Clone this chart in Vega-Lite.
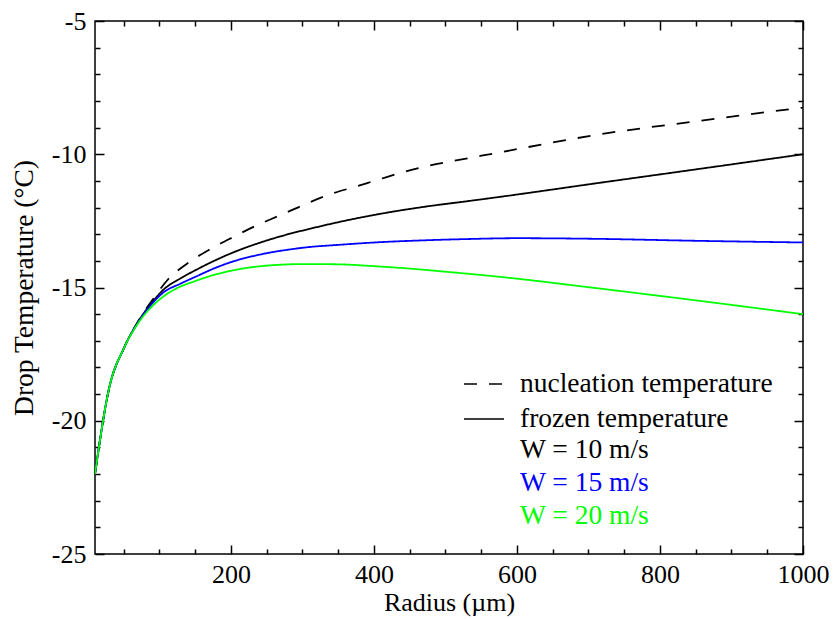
{
  "$schema": "https://vega.github.io/schema/vega-lite/v6.json",
  "width": 708,
  "height": 533,
  "autosize": {"type": "none"},
  "padding": {"left": 95, "top": 21, "right": 35, "bottom": 65},
  "background": "white",
  "config": {
    "font": "Liberation Serif, serif",
    "view": {"stroke": "#000", "strokeWidth": 1.5},
    "axis": {"labelFont": "Liberation Serif, serif", "titleFont": "Liberation Serif, serif", "labelColor": "#000", "titleColor": "#000", "tickColor": "#000", "tickWidth": 1.5, "grid": false, "domain": false, "labelFontSize": 26, "titleFontSize": 26, "titleFontWeight": "normal"},
    "legend": {"labelFont": "Liberation Serif, serif", "labelColor": "#000"}
  },
  "data": {
    "values": [
      {"s": "A", "type": "nucleation temperature", "W": "W = 10 m/s", "r": 10, "t": -22},
      {"s": "A", "type": "nucleation temperature", "W": "W = 10 m/s", "r": 30, "t": -18.75},
      {"s": "A", "type": "nucleation temperature", "W": "W = 10 m/s", "r": 50, "t": -17.3},
      {"s": "A", "type": "nucleation temperature", "W": "W = 10 m/s", "r": 70, "t": -16.28},
      {"s": "A", "type": "nucleation temperature", "W": "W = 10 m/s", "r": 90, "t": -15.48},
      {"s": "A", "type": "nucleation temperature", "W": "W = 10 m/s", "r": 112, "t": -14.7},
      {"s": "A", "type": "nucleation temperature", "W": "W = 10 m/s", "r": 140, "t": -14.08},
      {"s": "A", "type": "nucleation temperature", "W": "W = 10 m/s", "r": 172, "t": -13.55},
      {"s": "A", "type": "nucleation temperature", "W": "W = 10 m/s", "r": 203, "t": -13.11},
      {"s": "A", "type": "nucleation temperature", "W": "W = 10 m/s", "r": 236, "t": -12.67},
      {"s": "A", "type": "nucleation temperature", "W": "W = 10 m/s", "r": 268, "t": -12.3},
      {"s": "A", "type": "nucleation temperature", "W": "W = 10 m/s", "r": 300, "t": -11.92},
      {"s": "A", "type": "nucleation temperature", "W": "W = 10 m/s", "r": 338, "t": -11.51},
      {"s": "A", "type": "nucleation temperature", "W": "W = 10 m/s", "r": 375, "t": -11.21},
      {"s": "A", "type": "nucleation temperature", "W": "W = 10 m/s", "r": 410, "t": -10.92},
      {"s": "A", "type": "nucleation temperature", "W": "W = 10 m/s", "r": 440, "t": -10.68},
      {"s": "A", "type": "nucleation temperature", "W": "W = 10 m/s", "r": 478, "t": -10.42},
      {"s": "A", "type": "nucleation temperature", "W": "W = 10 m/s", "r": 515, "t": -10.23},
      {"s": "A", "type": "nucleation temperature", "W": "W = 10 m/s", "r": 576, "t": -9.93},
      {"s": "A", "type": "nucleation temperature", "W": "W = 10 m/s", "r": 650, "t": -9.56},
      {"s": "A", "type": "nucleation temperature", "W": "W = 10 m/s", "r": 716, "t": -9.25},
      {"s": "A", "type": "nucleation temperature", "W": "W = 10 m/s", "r": 785, "t": -8.99},
      {"s": "A", "type": "nucleation temperature", "W": "W = 10 m/s", "r": 855, "t": -8.75},
      {"s": "A", "type": "nucleation temperature", "W": "W = 10 m/s", "r": 925, "t": -8.5},
      {"s": "A", "type": "nucleation temperature", "W": "W = 10 m/s", "r": 1000, "t": -8.25},
      {"s": "B", "type": "frozen temperature", "W": "W = 10 m/s", "r": 10, "t": -22},
      {"s": "B", "type": "frozen temperature", "W": "W = 10 m/s", "r": 30, "t": -18.75},
      {"s": "B", "type": "frozen temperature", "W": "W = 10 m/s", "r": 50, "t": -17.3},
      {"s": "B", "type": "frozen temperature", "W": "W = 10 m/s", "r": 70, "t": -16.3},
      {"s": "B", "type": "frozen temperature", "W": "W = 10 m/s", "r": 90, "t": -15.55},
      {"s": "B", "type": "frozen temperature", "W": "W = 10 m/s", "r": 105, "t": -15.1},
      {"s": "B", "type": "frozen temperature", "W": "W = 10 m/s", "r": 130, "t": -14.65},
      {"s": "B", "type": "frozen temperature", "W": "W = 10 m/s", "r": 152, "t": -14.33},
      {"s": "B", "type": "frozen temperature", "W": "W = 10 m/s", "r": 175, "t": -14.02},
      {"s": "B", "type": "frozen temperature", "W": "W = 10 m/s", "r": 200, "t": -13.72},
      {"s": "B", "type": "frozen temperature", "W": "W = 10 m/s", "r": 245, "t": -13.28},
      {"s": "B", "type": "frozen temperature", "W": "W = 10 m/s", "r": 283, "t": -12.98},
      {"s": "B", "type": "frozen temperature", "W": "W = 10 m/s", "r": 310, "t": -12.8},
      {"s": "B", "type": "frozen temperature", "W": "W = 10 m/s", "r": 345, "t": -12.58},
      {"s": "B", "type": "frozen temperature", "W": "W = 10 m/s", "r": 408, "t": -12.24},
      {"s": "B", "type": "frozen temperature", "W": "W = 10 m/s", "r": 471, "t": -11.97},
      {"s": "B", "type": "frozen temperature", "W": "W = 10 m/s", "r": 534, "t": -11.75},
      {"s": "B", "type": "frozen temperature", "W": "W = 10 m/s", "r": 576, "t": -11.6},
      {"s": "B", "type": "frozen temperature", "W": "W = 10 m/s", "r": 716, "t": -11.07},
      {"s": "B", "type": "frozen temperature", "W": "W = 10 m/s", "r": 855, "t": -10.55},
      {"s": "B", "type": "frozen temperature", "W": "W = 10 m/s", "r": 1000, "t": -10.0},
      {"s": "C", "type": "frozen temperature", "W": "W = 15 m/s", "r": 10, "t": -22},
      {"s": "C", "type": "frozen temperature", "W": "W = 15 m/s", "r": 30, "t": -18.75},
      {"s": "C", "type": "frozen temperature", "W": "W = 15 m/s", "r": 50, "t": -17.3},
      {"s": "C", "type": "frozen temperature", "W": "W = 15 m/s", "r": 70, "t": -16.32},
      {"s": "C", "type": "frozen temperature", "W": "W = 15 m/s", "r": 90, "t": -15.6},
      {"s": "C", "type": "frozen temperature", "W": "W = 15 m/s", "r": 105, "t": -15.2},
      {"s": "C", "type": "frozen temperature", "W": "W = 15 m/s", "r": 130, "t": -14.85},
      {"s": "C", "type": "frozen temperature", "W": "W = 15 m/s", "r": 152, "t": -14.58},
      {"s": "C", "type": "frozen temperature", "W": "W = 15 m/s", "r": 175, "t": -14.3},
      {"s": "C", "type": "frozen temperature", "W": "W = 15 m/s", "r": 200, "t": -14.05},
      {"s": "C", "type": "frozen temperature", "W": "W = 15 m/s", "r": 245, "t": -13.74},
      {"s": "C", "type": "frozen temperature", "W": "W = 15 m/s", "r": 283, "t": -13.57},
      {"s": "C", "type": "frozen temperature", "W": "W = 15 m/s", "r": 310, "t": -13.48},
      {"s": "C", "type": "frozen temperature", "W": "W = 15 m/s", "r": 345, "t": -13.41},
      {"s": "C", "type": "frozen temperature", "W": "W = 15 m/s", "r": 408, "t": -13.3},
      {"s": "C", "type": "frozen temperature", "W": "W = 15 m/s", "r": 470, "t": -13.23},
      {"s": "C", "type": "frozen temperature", "W": "W = 15 m/s", "r": 534, "t": -13.18},
      {"s": "C", "type": "frozen temperature", "W": "W = 15 m/s", "r": 600, "t": -13.15},
      {"s": "C", "type": "frozen temperature", "W": "W = 15 m/s", "r": 700, "t": -13.17},
      {"s": "C", "type": "frozen temperature", "W": "W = 15 m/s", "r": 855, "t": -13.25},
      {"s": "C", "type": "frozen temperature", "W": "W = 15 m/s", "r": 1000, "t": -13.31},
      {"s": "D", "type": "frozen temperature", "W": "W = 20 m/s", "r": 10, "t": -22},
      {"s": "D", "type": "frozen temperature", "W": "W = 20 m/s", "r": 30, "t": -18.75},
      {"s": "D", "type": "frozen temperature", "W": "W = 20 m/s", "r": 50, "t": -17.3},
      {"s": "D", "type": "frozen temperature", "W": "W = 20 m/s", "r": 70, "t": -16.35},
      {"s": "D", "type": "frozen temperature", "W": "W = 20 m/s", "r": 90, "t": -15.7},
      {"s": "D", "type": "frozen temperature", "W": "W = 20 m/s", "r": 105, "t": -15.35},
      {"s": "D", "type": "frozen temperature", "W": "W = 20 m/s", "r": 125, "t": -15.02},
      {"s": "D", "type": "frozen temperature", "W": "W = 20 m/s", "r": 150, "t": -14.76},
      {"s": "D", "type": "frozen temperature", "W": "W = 20 m/s", "r": 180, "t": -14.5},
      {"s": "D", "type": "frozen temperature", "W": "W = 20 m/s", "r": 212, "t": -14.31},
      {"s": "D", "type": "frozen temperature", "W": "W = 20 m/s", "r": 260, "t": -14.16},
      {"s": "D", "type": "frozen temperature", "W": "W = 20 m/s", "r": 305, "t": -14.12},
      {"s": "D", "type": "frozen temperature", "W": "W = 20 m/s", "r": 350, "t": -14.13},
      {"s": "D", "type": "frozen temperature", "W": "W = 20 m/s", "r": 400, "t": -14.2},
      {"s": "D", "type": "frozen temperature", "W": "W = 20 m/s", "r": 445, "t": -14.28},
      {"s": "D", "type": "frozen temperature", "W": "W = 20 m/s", "r": 505, "t": -14.42},
      {"s": "D", "type": "frozen temperature", "W": "W = 20 m/s", "r": 576, "t": -14.6},
      {"s": "D", "type": "frozen temperature", "W": "W = 20 m/s", "r": 716, "t": -15.04},
      {"s": "D", "type": "frozen temperature", "W": "W = 20 m/s", "r": 855, "t": -15.5},
      {"s": "D", "type": "frozen temperature", "W": "W = 20 m/s", "r": 1000, "t": -16.0}
    ]
  },
  "layer": [
    {
      "mark": {"type": "line", "strokeWidth": 1.8, "clip": true, "interpolate": "monotone"},
      "encoding": {
        "x": {
          "field": "r", "type": "quantitative",
          "scale": {"domain": [10, 1000], "nice": false, "zero": false},
          "axis": {
            "orient": "bottom",
            "values": [50, 100, 150, 200, 250, 300, 350, 400, 450, 500, 550, 600, 650, 700, 750, 800, 850, 900, 950, 1000],
            "tickSize": {"condition": {"test": "datum.value % 200 === 0", "value": -9}, "value": -5},
            "labelExpr": "datum.value % 200 === 0 ? datum.value + '' : ''",
            "labelFlush": false,
            "labelOverlap": false,
            "labelPadding": 16,
            "title": "Radius (µm)",
            "titlePadding": -2
          }
        },
        "y": {
          "field": "t", "type": "quantitative",
          "scale": {"domain": [-25, -5], "nice": false, "zero": false},
          "axis": {
            "orient": "left",
            "values": [-25, -24, -23, -22, -21, -20, -19, -18, -17, -16, -15, -14, -13, -12, -11, -10, -9, -8, -7, -6, -5],
            "tickSize": {"condition": {"test": "datum.value % 5 === 0", "value": -9}, "value": -5},
            "labelExpr": "datum.value % 5 === 0 ? datum.value + '' : ''",
            "labelFlush": false,
            "labelOverlap": false,
            "labelPadding": 18,
            "title": "Drop Temperature (°C)",
            "titleFontSize": 27.5,
            "titlePadding": 13
          }
        },
        "color": {
          "field": "W", "type": "nominal",
          "scale": {"domain": ["W = 10 m/s", "W = 15 m/s", "W = 20 m/s"], "range": ["#000000", "#0000ff", "#00ff00"]},
          "legend": {
            "orient": "none", "legendX": 396, "legendY": 414, "title": null,
            "symbolSize": 729, "symbolOpacity": 0, "labelFontSize": 27.5, "labelOffset": 0,
            "rowPadding": 5, "padding": 0, "labelLimit": 0,
            "encode": {"labels": {"update": {"fill": {"scale": "color", "field": "value"}}}}
          }
        },
        "strokeDash": {
          "field": "type", "type": "nominal",
          "scale": {"domain": ["nucleation temperature", "frozen temperature"], "range": [[13, 12], [1, 0]]},
          "legend": {
            "orient": "none", "legendX": 368, "legendY": 342, "title": null,
            "symbolType": "stroke", "symbolSize": 1600, "symbolStrokeWidth": 1.7, "symbolStrokeColor": "#000",
            "labelFontSize": 27.5, "labelOffset": 15, "rowPadding": -12, "padding": 0, "labelLimit": 0,
            "encode": {"symbols": {"update": {"strokeDash": [{"test": "datum.value === 'nucleation temperature'", "value": [8, 19, 13, 10]}, {"value": [1, 0]}]}}}
          }
        },
        "detail": {"field": "s", "type": "nominal"}
      }
    },
    {
      "mark": {"type": "line", "opacity": 0},
      "encoding": {
        "x": {
          "field": "r", "type": "quantitative",
          "axis": {
            "orient": "top",
            "values": [50, 100, 150, 200, 250, 300, 350, 400, 450, 500, 550, 600, 650, 700, 750, 800, 850, 900, 950, 1000],
            "tickSize": {"condition": {"test": "datum.value % 200 === 0", "value": -9}, "value": -5},
            "labels": false,
            "title": null
          }
        },
        "y": {
          "field": "t", "type": "quantitative",
          "axis": {
            "orient": "right",
            "values": [-25, -24, -23, -22, -21, -20, -19, -18, -17, -16, -15, -14, -13, -12, -11, -10, -9, -8, -7, -6, -5],
            "tickSize": {"condition": {"test": "datum.value % 5 === 0", "value": -9}, "value": -5},
            "labels": false,
            "title": null
          }
        },
        "detail": {"field": "s", "type": "nominal"}
      }
    }
  ],
  "resolve": {"axis": {"x": "independent", "y": "independent"}}
}
